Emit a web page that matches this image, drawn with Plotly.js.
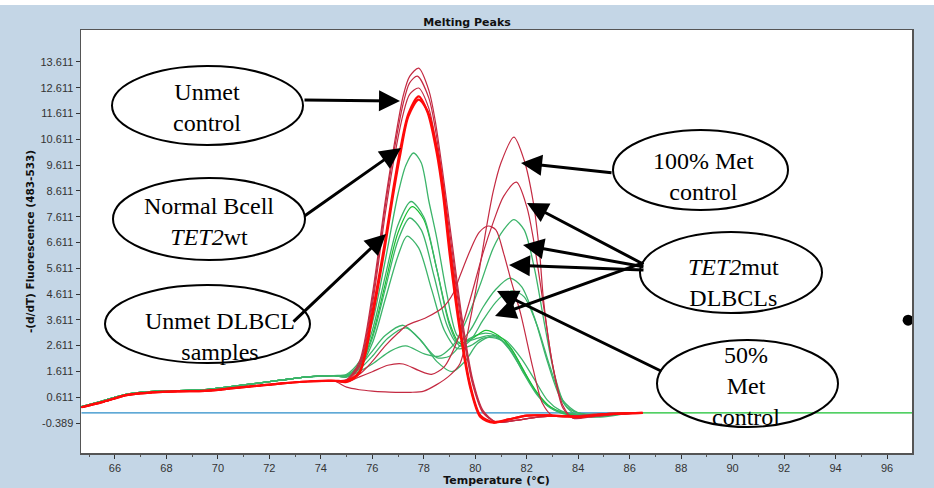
<!DOCTYPE html>
<html><head><meta charset="utf-8">
<script src="https://cdn.plot.ly/plotly-3.0.1.min.js"></script>
<style>html,body{margin:0;padding:0;background:#fff;}#chart{width:934px;height:488px;}</style>
</head><body><div id="chart"></div>
<script>
// ---- data (temperature °C, -(d/dT) fluorescence) ----
const baseT     = [64.7, 65.5, 66.5, 67.5, 68.5, 69.5, 70.5, 71.5, 72.5, 73.5, 74.5];
const baseRed   = [0.22, 0.42, 0.70, 0.80, 0.84, 0.86, 0.95, 1.05, 1.15, 1.22, 1.25];
const baseGreen = [0.25, 0.46, 0.74, 0.84, 0.87, 0.90, 1.02, 1.15, 1.28, 1.40, 1.45];

// Unmet control / Normal B-cell (thin crimson)
const r1T = [75, 75.5, 76, 76.5, 76.8, 77.2, 77.45, 77.8, 78.2, 78.45, 78.7, 78.9, 79.1, 79.5, 79.9, 80.3, 80.8, 81.5, 82.5, 83.5, 84.5, 85.5, 86.5];
const r1V = [1.3, 2.0, 4.6, 8.2, 10.1, 12.3, 13.05, 13.37, 12.5, 11.3, 9.6, 8.1, 6.6, 3.6, 1.3, 0.1, -0.35, -0.3, -0.15, -0.1, -0.15, -0.05, 0];
const r2T = [75, 75.5, 76, 76.5, 76.8, 77.2, 77.45, 77.75, 78.2, 78.45, 78.7, 78.9, 79.1, 79.5, 79.9, 80.3, 80.8, 81.5, 82.5, 83.5, 84.5, 85.5, 86.5];
const r2V = [1.28, 1.9, 4.4, 8.0, 9.9, 12.0, 12.8, 13.06, 12.2, 11.0, 9.3, 7.8, 6.3, 3.4, 1.2, 0.05, -0.35, -0.3, -0.15, -0.1, -0.1, -0.05, 0];
const r3T = [75, 75.5, 76, 76.5, 76.8, 77.2, 77.45, 77.8, 78.2, 78.45, 78.7, 78.9, 79.1, 79.5, 79.9, 80.3, 80.8, 81.5, 82.5, 83.5, 84.5, 85.5, 86.5];
const r3V = [1.25, 1.8, 4.2, 7.7, 9.6, 11.6, 12.35, 12.6, 11.8, 10.6, 8.9, 7.4, 6.0, 3.2, 1.1, 0.0, -0.35, -0.3, -0.15, -0.1, -0.1, -0.05, 0];
// bright red (thick)
const bT  = [75, 75.5, 76, 76.5, 76.8, 77.1, 77.4, 77.8, 78.15, 78.5, 78.75, 79.0, 79.4, 79.8, 80.2, 80.7, 81.3, 82, 83, 84, 85, 86.5];
const b1V = [1.25, 1.6, 3.9, 6.7, 8.6, 10.3, 11.6, 12.28, 11.65, 10.1, 8.45, 6.2, 3.2, 1.0, -0.16, -0.38, -0.25, -0.1, -0.1, -0.15, -0.05, 0];
const b2V = [1.2, 1.55, 3.7, 6.5, 8.4, 10.1, 11.5, 12.15, 11.7, 10.3, 8.7, 6.5, 3.4, 1.1, -0.1, -0.35, -0.25, -0.1, -0.1, -0.15, -0.05, 0];

// 100% Met control
const r6T = [75, 75.5, 76, 76.5, 77, 77.5, 78, 78.5, 79, 79.4, 79.8, 80.1, 80.4, 80.7, 81.0, 81.5, 81.9, 82.25, 82.5, 82.65, 83.0, 83.4, 83.8, 84.5, 85.5, 86.5];
const r6V = [1.0, 0.9, 0.85, 0.82, 0.8, 0.8, 0.85, 1.1, 1.45, 1.9, 3.6, 5.2, 7.0, 8.6, 9.7, 10.7, 9.8, 8.2, 6.2, 4.4, 1.9, 0.2, -0.2, -0.1, -0.05, 0];
// TET2mut red
const r7T = [75, 75.5, 76, 76.6, 77.2, 77.8, 78.3, 78.8, 79.3, 79.8, 80.3, 80.7, 81.1, 81.6, 82.0, 82.25, 82.5, 82.75, 83.0, 83.4, 83.8, 84.5, 85.5, 86.5];
const r7V = [1.2, 1.4, 1.6, 1.85, 1.9, 1.65, 1.5, 1.8, 2.8, 4.4, 6.2, 7.4, 8.4, 8.95, 8.0, 6.8, 5.2, 3.5, 1.9, 0.3, -0.2, -0.15, -0.05, 0];
// 50% Met control (red)
const r8T = [75, 75.5, 76, 76.5, 77, 77.35, 78.1, 78.75, 79.15, 79.4, 79.8, 80.15, 80.5, 80.8, 81.1, 81.4, 81.75, 82.25, 82.6, 83.0, 83.5, 84.5, 86];
const r8V = [1.25, 1.5, 2.0, 2.6, 3.1, 3.4, 3.7, 4.1, 4.65, 5.3, 6.3, 7.0, 7.25, 7.1, 6.2, 5.1, 3.9, 1.7, 0.4, -0.1, -0.15, -0.05, 0];

// Unmet DLBCL samples / TET2mut DLBCLs (green)
const g1T = [75, 75.5, 76, 76.5, 77, 77.3, 77.6, 77.9, 78.2, 78.5, 78.9, 79.3, 79.7, 80.1, 80.5, 80.9, 81.4, 81.9, 82.4, 82.9, 83.4, 84, 85, 86];
const g1V = [1.5, 2.0, 3.5, 5.9, 8.5, 9.6, 10.08, 9.7, 8.2, 6.8, 4.6, 3.0, 2.8, 2.9, 3.0, 2.9, 2.4, 1.5, 0.7, 0.2, 0.0, -0.05, -0.1, 0];
const g2T = [75, 75.5, 76, 76.5, 77, 77.5, 78, 78.5, 79, 79.4, 79.8, 80.3, 80.8, 81.2, 81.5, 81.9, 82.4, 82.9, 83.4, 84, 85, 86];
const g2V = [1.45, 1.9, 3.2, 5.3, 7.3, 8.2, 7.6, 5.6, 3.4, 2.6, 2.8, 3.6, 4.3, 4.65, 4.73, 4.5, 3.4, 1.8, 0.5, 0.0, -0.1, 0];
const g3T = [75, 75.5, 76, 76.5, 77, 77.55, 78, 78.5, 79, 79.4, 79.9, 80.4, 80.9, 81.4, 81.9, 82.4, 82.9, 83.4, 84, 85, 86];
const g3V = [1.45, 1.85, 3.0, 5.0, 7.0, 8.0, 7.5, 5.6, 3.5, 2.7, 2.9, 3.2, 3.0, 2.5, 1.6, 0.8, 0.25, 0.0, -0.1, -0.1, 0];
const g4T = [75, 75.5, 76, 76.5, 77, 77.45, 77.9, 78.4, 78.9, 79.3, 79.8, 80.3, 80.8, 81.35, 81.8, 82.3, 82.8, 83.3, 83.8, 84.5, 85.5, 86.5];
const g4V = [1.45, 1.8, 2.9, 4.8, 6.7, 7.56, 7.1, 5.3, 3.4, 2.7, 3.2, 4.1, 4.8, 5.23, 4.9, 3.7, 2.0, 0.6, 0.0, -0.15, -0.05, 0];
const g5T = [75, 75.5, 76, 76.5, 77, 77.35, 77.8, 78.3, 78.8, 79.3, 79.8, 80.3, 80.8, 81.3, 81.8, 82.3, 82.8, 83.3, 84, 85, 86];
const g5V = [1.4, 1.75, 2.7, 4.4, 6.1, 6.86, 6.4, 4.8, 3.2, 2.5, 2.6, 2.9, 2.9, 2.6, 1.8, 0.9, 0.3, 0.0, -0.1, -0.05, 0];
const g6T = [75, 75.5, 76, 76.5, 77.2, 77.8, 78.5, 79, 79.5, 80, 80.4, 80.8, 81.3, 81.8, 82.3, 82.8, 83.3, 84, 85, 86];
const g6V = [1.45, 1.8, 2.4, 3.0, 3.4, 2.9, 2.15, 2.2, 2.7, 3.0, 3.1, 3.0, 2.5, 1.7, 0.9, 0.3, 0.05, -0.05, -0.1, 0];
const g7T = [75, 75.5, 76, 76.6, 77.3, 77.9, 78.5, 79.1, 79.6, 80.1, 80.7, 81.2, 81.8, 82.3, 82.8, 83.3, 84, 85, 86];
const g7V = [1.4, 1.7, 2.2, 2.9, 3.3, 2.8, 2.0, 1.6, 2.0, 2.7, 3.0, 2.8, 2.1, 1.3, 0.5, 0.1, -0.1, -0.15, 0];
const g8T = [75, 76, 76.7, 77.3, 78, 78.6, 79.2, 79.7, 80.2, 80.7, 81.1, 81.5, 81.9, 82.3, 82.7, 83.1, 83.5, 84, 85, 86];
const g8V = [1.4, 1.9, 2.4, 2.6, 2.3, 2.2, 2.7, 3.7, 5.0, 6.4, 7.1, 7.5, 7.1, 5.6, 3.4, 1.4, 0.3, 0.0, -0.05, 0];

// zero reference lines and the stray dot
const blueT = [64.7, 85.5];  const blueV = [0, 0];
const tailT = [85.5, 97];    const tailV = [0, 0];
const dotT  = [96.82];       const dotV  = [3.6];

// axis ticks
const xTickVals = [66, 68, 70, 72, 74, 76, 78, 80, 82, 84, 86, 88, 90, 92, 94, 96];
const yTickVals = [-0.389, 0.611, 1.611, 2.611, 3.611, 4.611, 5.611, 6.611, 7.611, 8.611, 9.611, 10.611, 11.611, 12.611, 13.611];
const yTickText = ['-0.389','0.611','1.611','2.611','3.611','4.611','5.611','6.611','7.611','8.611','9.611','10.611','11.611','12.611','13.611'];

// ---- styling / traces ----
const CRIM = '#c42a42', BRED = '#ff0a0a', GRN = '#3cb46a', BGRN = '#18c030';
function tr(tx, vy, color, width, base) {
  const b = base === 'r' ? baseRed : baseGreen;
  return {x: baseT.concat(tx), y: b.concat(vy), type: 'scatter', mode: 'lines',
          line: {color: color, width: width, shape: 'spline', smoothing: 0.8}, hoverinfo: 'skip'};
}
const traces = [
  {x: blueT, y: blueV, type:'scatter', mode:'lines', line:{color:'#2a8cc8', width:1.3}},
  {x: tailT, y: tailV, type:'scatter', mode:'lines', line:{color:BGRN, width:1.3}},
  tr(g6T, g6V, GRN, 1.3, 'g'),
  tr(g7T, g7V, GRN, 1.3, 'g'),
  tr(g5T, g5V, GRN, 1.3, 'g'),
  tr(g3T, g3V, BGRN, 1.2, 'g'),
  tr(g4T, g4V, GRN, 1.3, 'g'),
  tr(g2T, g2V, GRN, 1.3, 'g'),
  tr(g1T, g1V, GRN, 1.3, 'g'),
  tr(g8T, g8V, GRN, 1.3, 'g'),
  tr(r8T, r8V, CRIM, 1.2, 'r'),
  tr(r7T, r7V, CRIM, 1.2, 'r'),
  tr(r6T, r6V, CRIM, 1.2, 'r'),
  tr(r3T, r3V, CRIM, 1.2, 'r'),
  tr(r2T, r2V, CRIM, 1.2, 'r'),
  tr(r1T, r1V, CRIM, 1.2, 'r'),
  tr(bT, b2V, BRED, 2.2, 'r'),
  tr(bT, b1V, BRED, 2.2, 'r'),
  {x: dotT, y: dotV, type:'scatter', mode:'markers', marker:{color:'#000', size:11}}
];

// ---- annotation geometry (pixel positions in the 934x488 frame) ----
const L = 81, R = 912, T = 30, B = 453;
const px = v => (v - L) / (R - L);
const py = v => (B - v) / (B - T);
const ellipses = [
  [112, 66, 303, 145], [113, 178, 305, 260], [105, 285, 310, 363],
  [613, 130, 788, 210], [640, 232, 822, 313], [657, 340, 838, 427]
];
const shapes = ellipses.map(e => ({type:'circle', xref:'paper', yref:'paper',
  x0: px(e[0]), x1: px(e[2]), y0: py(e[3]), y1: py(e[1]),
  line:{color:'#000', width:2}, fillcolor:'rgba(0,0,0,0)', layer:'above'}));
shapes.push({type:'rect', xref:'paper', yref:'paper', x0:-0.2, x1:1.1, y0:py(5), y1:py(-2),
  line:{width:0}, fillcolor:'#ffffff', layer:'below'});

const labels = [
  ['Unmet<br>control', 207, 107],
  ['Normal Bcell<br><i>TET2</i>wt', 209, 221],
  ['Unmet DLBCL<br>samples', 220, 336],
  ['100% Met<br>control', 703, 176],
  ['<i>TET2</i>mut<br>DLBCLs', 733, 282],
  ['50%<br>Met<br>control', 746, 386]
];
const arrows = [ // [tailX, tailY, headX, headY]
  [303, 100, 400, 101], [303, 217, 401, 148], [292, 323, 386, 234],
  [613, 173, 521, 163],
  [645, 265, 527, 203], [645, 267, 523, 245], [645, 270, 509, 265], [645, 262, 495, 316],
  [663, 372, 497, 291]
];
const annotations = labels.map(l => ({xref:'paper', yref:'paper', x:px(l[1]), y:py(l[2]),
  text:l[0], showarrow:false, xanchor:'center', yanchor:'middle',
  font:{family:'Liberation Serif, Times New Roman, serif', size:24, color:'#000'}}))
  .concat(arrows.map(a => ({xref:'paper', yref:'paper', x:px(a[2]), y:py(a[3]),
    ax: a[0]-a[2], ay: a[1]-a[3], text:'', showarrow:true, arrowhead:2, arrowsize:1.4,
    arrowwidth:3, arrowcolor:'#000', standoff:0})));

const layout = {
  width: 934, height: 488,
  margin: {l: L, r: 934 - R, t: T, b: 488 - B},
  paper_bgcolor: '#c4d6e6', plot_bgcolor: '#ffffff',
  showlegend: false,
  title: {text: '<b>Melting Peaks</b>', x: 0.5, xref: 'container', y: 1 - 22/488, yanchor: 'middle',
          font: {family: 'DejaVu Sans, sans-serif', size: 11, color: '#111'}},
  xaxis: {range: [64.68, 96.97], tickmode: 'array', tickvals: xTickVals,
          ticks: 'outside', ticklen: 4, tickcolor: '#333', showgrid: false, zeroline: false,
          showline: true, mirror: true, linecolor: '#555', linewidth: 1.5,
          minor: {dtick: 1, ticklen: 2, tickcolor: '#555'},
          tickfont: {family: 'Liberation Sans Narrow, Liberation Sans, Arial, sans-serif', size: 11, color: '#333'},
          title: {text: '<b>Temperature (°C)</b>', standoff: 2,
                  font: {family: 'DejaVu Sans, sans-serif', size: 11, color: '#111'}}},
  yaxis: {range: [-1.552, 14.85], tickmode: 'array', tickvals: yTickVals, ticktext: yTickText,
          ticks: 'outside', ticklen: 4, tickcolor: '#333', showgrid: false, zeroline: false,
          showline: true, mirror: true, linecolor: '#555', linewidth: 1.5,
          tickfont: {family: 'Liberation Sans Narrow, Liberation Sans, Arial, sans-serif', size: 11, color: '#333'},
          title: {text: '<b>-(d/dT) Fluorescence (483-533)</b>', standoff: 4,
                  font: {family: 'DejaVu Sans, sans-serif', size: 10.5, color: '#111'}}},
  shapes: shapes, annotations: annotations
};
Plotly.newPlot('chart', traces, layout, {staticPlot: true, displayModeBar: false});
</script></body></html>
